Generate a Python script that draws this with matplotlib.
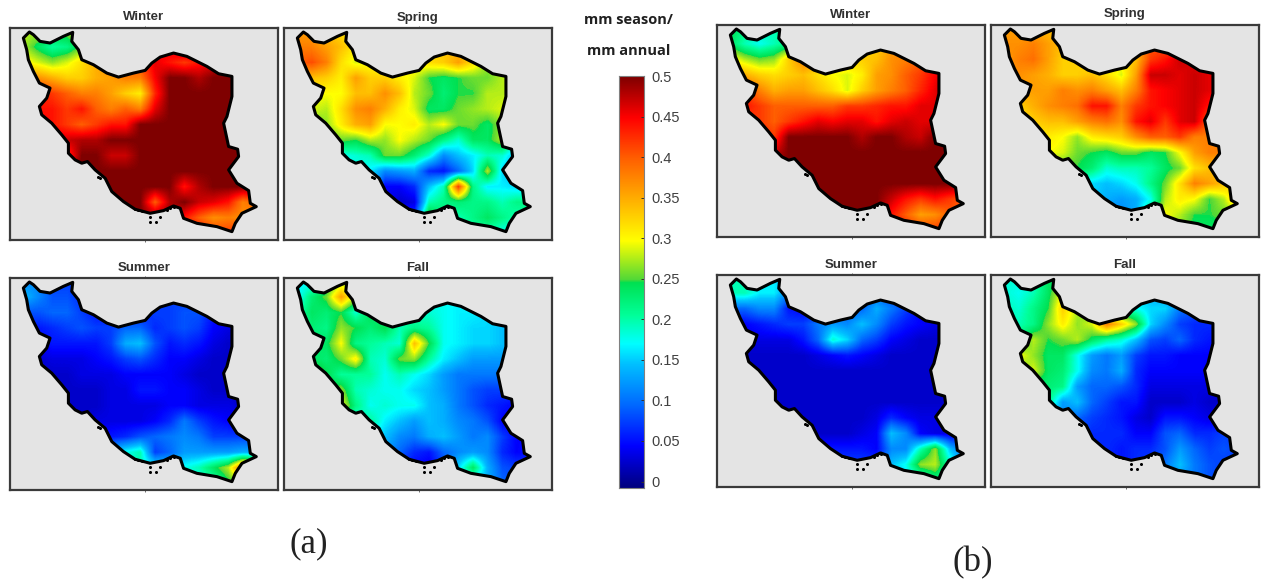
import numpy as np
from matplotlib import pyplot as plt
from matplotlib.colors import LinearSegmentedColormap
from matplotlib.patches import Polygon

W, H = 1266, 584

# border of the country, in panel units (frame is 803 x 635)
border_x = [58, 40, 50, 55, 70, 88, 120, 110, 88, 95, 125, 155, 175, 175, 195, 215, 232, 255, 285, 305,
            340, 375, 420, 460, 490, 510, 520, 560, 620, 665, 675, 695, 738, 720, 715, 680, 655, 685,
            682, 655, 640, 650, 665, 665, 625, 590, 530, 490, 450, 425, 405, 370, 325, 290, 250, 215,
            205, 185, 188, 160, 120, 90, 70]
border_y = [12, 30, 65, 95, 130, 165, 180, 210, 235, 260, 285, 320, 345, 375, 395, 405, 400, 425, 450, 490,
            520, 543, 555, 547, 533, 540, 570, 585, 595, 610, 585, 555, 535, 525, 487, 465, 425, 385,
            363, 355, 285, 265, 205, 145, 137, 115, 85, 75, 87, 105, 127, 135, 147, 135, 110, 95,
            65, 40, 13, 25, 45, 40, 20]
island_x = [265, 270, 420, 438, 420, 448, 375, 385, 395, 470, 480, 490]
island_y = [447, 450, 565, 580, 580, 565, 543, 546, 548, 545, 540, 535]

# panel frames in figure pixels: left, top
frames = {'a_winter': (10, 28), 'a_spring': (284, 28), 'a_summer': (10, 278), 'a_fall': (284, 278),
          'b_winter': (717, 25), 'b_spring': (991, 25), 'b_summer': (717, 275), 'b_fall': (991, 275)}
frame_w, frame_h = 268, 212
titles = {'a_winter': 'Winter', 'a_spring': 'Spring', 'a_summer': 'Summer', 'a_fall': 'Fall',
          'b_winter': 'Winter', 'b_spring': 'Spring', 'b_summer': 'Summer', 'b_fall': 'Fall'}

# seasonal share in hundredths, 14 rows (north to south) by 17 columns (west to east)
a_winter = [
    [28, 28, 26, 27, 30, 36, 40, 42, 44, 45, 46, 50, 50, 50, 50, 50, 50],
    [28, 24, 21, 22, 26, 32, 36, 40, 42, 44, 46, 50, 50, 50, 50, 50, 50],
    [31, 29, 27, 29, 32, 35, 38, 40, 42, 46, 44, 42, 44, 46, 50, 50, 50],
    [37, 37, 35, 33, 33, 35, 36, 38, 38, 45, 50, 50, 48, 50, 50, 50, 50],
    [42, 44, 42, 40, 38, 38, 36, 33, 31, 43, 50, 50, 50, 50, 50, 50, 50],
    [44, 44, 44, 42, 44, 40, 38, 40, 38, 46, 50, 50, 50, 50, 50, 50, 50],
    [46, 46, 44, 42, 40, 42, 44, 44, 50, 50, 50, 50, 50, 50, 50, 50, 50],
    [47, 47, 47, 47, 48, 48, 50, 50, 50, 50, 50, 50, 50, 50, 50, 50, 50],
    [44, 44, 44, 42, 50, 50, 47, 47, 50, 50, 50, 50, 50, 50, 50, 50, 50],
    [50, 50, 50, 50, 50, 50, 50, 50, 50, 50, 50, 50, 50, 50, 50, 50, 50],
    [50, 50, 50, 50, 50, 50, 50, 50, 50, 50, 50, 44, 48, 50, 50, 50, 50],
    [50, 50, 50, 50, 50, 50, 50, 50, 50, 40, 48, 50, 47, 46, 44, 38, 40],
    [50, 50, 50, 50, 50, 50, 50, 50, 50, 50, 50, 44, 40, 37, 38, 37, 37],
    [50, 50, 50, 50, 50, 50, 50, 50, 50, 50, 50, 46, 45, 42, 42, 44, 44],
]
a_spring = [
    [36, 36, 34, 32, 31, 30, 30, 30, 30, 32, 33, 33, 30, 27, 27, 27, 27],
    [38, 38, 36, 34, 31, 29, 29, 29, 30, 32, 34, 34, 30, 27, 27, 27, 27],
    [40, 41, 38, 32, 29, 30, 29, 30, 31, 32, 33, 36, 32, 27, 27, 27, 27],
    [34, 34, 33, 31, 36, 33, 33, 31, 29, 25, 24, 25, 26, 26, 28, 28, 28],
    [30, 30, 30, 30, 34, 34, 37, 34, 28, 26, 23, 25, 25, 28, 28, 28, 28],
    [29, 29, 28, 32, 37, 38, 35, 31, 29, 24, 24, 26, 27, 28, 29, 29, 29],
    [25, 25, 27, 31, 35, 36, 30, 30, 31, 28, 30, 26, 26, 24, 27, 27, 27],
    [25, 25, 25, 26, 25, 28, 27, 30, 28, 26, 22, 19, 24, 24, 28, 20, 20],
    [20, 20, 20, 18, 19, 20, 26, 26, 23, 19, 12, 15, 17, 20, 19, 14, 14],
    [18, 18, 18, 17, 18, 17, 12, 13, 14, 7, 6, 10, 16, 28, 16, 14, 14],
    [15, 15, 15, 15, 15, 17, 5, 5, 7, 15, 20, 42, 22, 17, 17, 16, 16],
    [10, 10, 10, 10, 12, 15, 5, 3, 4, 20, 22, 23, 22, 22, 20, 22, 22],
    [8, 8, 8, 8, 8, 8, 8, 8, 8, 28, 22, 20, 22, 24, 22, 20, 20],
    [8, 8, 8, 8, 8, 8, 8, 8, 8, 20, 20, 20, 20, 20, 18, 18, 18],
]
a_summer = [
    [12, 12, 8, 8, 7, 5, 5, 5, 5, 7, 7, 8, 7, 6, 5, 5, 5],
    [15, 12, 9, 9, 7, 5, 5, 5, 5, 7, 8, 8, 7, 6, 5, 5, 5],
    [9, 9, 10, 10, 8, 6, 6, 6, 6, 8, 8, 9, 9, 6, 5, 5, 5],
    [6, 6, 7, 8, 9, 8, 8, 10, 10, 7, 8, 9, 8, 5, 4, 4, 4],
    [5, 5, 6, 6, 6, 6, 8, 14, 15, 9, 6, 7, 6, 4, 3, 3, 3],
    [3, 3, 4, 4, 4, 5, 6, 8, 9, 7, 5, 5, 4, 3, 3, 3, 3],
    [3, 3, 3, 3, 4, 4, 4, 5, 5, 5, 5, 4, 3, 3, 3, 3, 3],
    [3, 3, 3, 3, 3, 3, 4, 4, 6, 6, 5, 5, 4, 3, 3, 3, 3],
    [3, 3, 3, 3, 3, 3, 4, 4, 4, 4, 5, 5, 4, 4, 4, 3, 3],
    [3, 3, 3, 3, 3, 4, 4, 4, 4, 5, 7, 11, 8, 6, 5, 5, 5],
    [4, 4, 4, 4, 4, 5, 6, 7, 9, 10, 11, 12, 11, 8, 8, 8, 8],
    [12, 12, 12, 12, 12, 12, 15, 18, 20, 8, 10, 13, 13, 13, 13, 14, 14],
    [18, 18, 18, 18, 18, 18, 18, 20, 20, 18, 16, 18, 20, 24, 28, 40, 35],
    [18, 18, 18, 18, 18, 18, 18, 18, 18, 18, 18, 17, 18, 20, 24, 26, 26],
]
a_fall = [
    [17, 17, 22, 27, 27, 22, 20, 20, 20, 18, 18, 17, 17, 17, 16, 16, 16],
    [17, 23, 26, 36, 28, 22, 20, 20, 20, 18, 18, 17, 17, 17, 16, 16, 16],
    [20, 24, 23, 25, 19, 25, 22, 20, 19, 19, 18, 17, 17, 16, 16, 16, 16],
    [19, 23, 22, 27, 25, 23, 25, 20, 22, 21, 18, 17, 16, 16, 15, 15, 15],
    [20, 23, 24, 30, 22, 21, 20, 19, 34, 25, 18, 17, 16, 16, 15, 15, 15],
    [27, 24, 23, 26, 31, 20, 19, 26, 27, 21, 17, 15, 13, 13, 13, 13, 13],
    [29, 29, 25, 21, 21, 21, 18, 20, 18, 16, 13, 11, 11, 11, 11, 11, 11],
    [22, 23, 24, 27, 20, 19, 18, 18, 16, 15, 13, 11, 9, 8, 8, 8, 8],
    [26, 24, 22, 30, 22, 18, 19, 18, 18, 15, 14, 11, 9, 7, 6, 5, 5],
    [23, 23, 22, 22, 18, 21, 17, 15, 13, 15, 14, 12, 11, 9, 5, 5, 5],
    [18, 18, 18, 18, 18, 18, 15, 12, 11, 14, 15, 13, 11, 12, 8, 5, 5],
    [14, 14, 14, 14, 14, 15, 13, 10, 7, 6, 10, 12, 13, 12, 7, 5, 6],
    [8, 8, 8, 8, 8, 8, 8, 6, 5, 4, 8, 16, 24, 14, 9, 8, 8],
    [8, 8, 8, 8, 8, 8, 8, 8, 8, 8, 8, 14, 15, 14, 10, 9, 9],
]
b_winter = [
    [25, 22, 20, 20, 22, 30, 33, 33, 33, 33, 33, 38, 40, 44, 50, 50, 50],
    [24, 20, 18, 20, 22, 28, 33, 33, 33, 32, 33, 36, 38, 42, 50, 50, 50],
    [31, 28, 26, 27, 33, 38, 36, 34, 33, 33, 34, 37, 38, 40, 45, 50, 50],
    [36, 35, 33, 32, 33, 34, 32, 30, 29, 31, 36, 37, 40, 42, 45, 50, 50],
    [42, 42, 38, 35, 36, 36, 34, 32, 29, 33, 36, 38, 40, 43, 46, 50, 50],
    [43, 44, 42, 40, 40, 40, 40, 40, 42, 42, 43, 44, 44, 46, 46, 50, 50],
    [42, 42, 42, 40, 42, 44, 46, 45, 46, 46, 44, 46, 47, 46, 46, 50, 50],
    [45, 45, 43, 42, 50, 50, 50, 50, 50, 48, 50, 50, 48, 47, 50, 50, 50],
    [47, 47, 47, 47, 50, 50, 50, 50, 50, 50, 50, 50, 50, 50, 50, 50, 50],
    [50, 50, 50, 50, 50, 50, 50, 50, 50, 50, 50, 50, 50, 50, 50, 50, 50],
    [50, 50, 50, 50, 50, 50, 50, 50, 50, 50, 50, 50, 50, 50, 50, 50, 50],
    [50, 50, 50, 50, 50, 50, 50, 50, 50, 50, 50, 47, 44, 42, 44, 42, 40],
    [50, 50, 50, 50, 50, 50, 50, 50, 50, 50, 50, 44, 40, 36, 37, 40, 40],
    [50, 50, 50, 50, 50, 50, 50, 50, 50, 50, 50, 46, 44, 42, 42, 44, 44],
]
b_spring = [
    [36, 36, 35, 34, 33, 32, 32, 32, 34, 36, 38, 38, 40, 42, 44, 46, 46],
    [37, 37, 38, 36, 34, 32, 32, 32, 34, 36, 40, 40, 40, 42, 44, 46, 46],
    [36, 38, 39, 36, 33, 33, 30, 30, 31, 34, 42, 44, 47, 46, 44, 44, 44],
    [36, 37, 36, 35, 33, 33, 34, 32, 29, 36, 47, 47, 46, 47, 46, 46, 46],
    [35, 36, 36, 36, 38, 37, 38, 36, 34, 38, 44, 45, 46, 47, 46, 46, 46],
    [31, 33, 35, 37, 38, 39, 44, 44, 38, 42, 44, 45, 46, 47, 44, 44, 44],
    [31, 31, 33, 34, 34, 36, 38, 39, 37, 44, 46, 42, 46, 47, 40, 40, 40],
    [31, 31, 31, 31, 30, 27, 31, 32, 33, 37, 40, 40, 42, 38, 38, 38, 38],
    [31, 31, 31, 30, 29, 26, 25, 24, 26, 26, 24, 25, 30, 36, 38, 38, 38],
    [25, 25, 25, 25, 25, 25, 23, 19, 20, 20, 21, 24, 26, 32, 34, 33, 33],
    [18, 18, 18, 18, 18, 18, 16, 15, 16, 18, 22, 26, 32, 38, 36, 34, 30],
    [16, 16, 16, 16, 16, 16, 16, 14, 13, 14, 18, 28, 31, 30, 25, 28, 35],
    [12, 12, 12, 12, 12, 12, 12, 12, 12, 14, 24, 30, 28, 25, 25, 26, 26],
    [12, 12, 12, 12, 12, 12, 12, 12, 12, 14, 24, 28, 26, 24, 24, 24, 24],
]
b_summer = [
    [20, 20, 18, 17, 12, 5, 4, 4, 4, 6, 6, 6, 6, 5, 4, 4, 4],
    [20, 20, 17, 17, 12, 5, 4, 4, 4, 8, 10, 8, 6, 5, 4, 4, 4],
    [10, 10, 12, 12, 6, 5, 5, 6, 9, 10, 14, 11, 8, 5, 4, 4, 4],
    [5, 5, 6, 7, 8, 8, 11, 13, 12, 15, 12, 8, 6, 5, 4, 4, 4],
    [4, 4, 4, 4, 4, 6, 10, 19, 16, 10, 8, 5, 4, 3, 3, 3, 3],
    [3, 3, 3, 3, 3, 3, 4, 5, 6, 5, 4, 3, 3, 3, 3, 3, 3],
    [3, 3, 3, 3, 3, 3, 3, 3, 3, 3, 3, 3, 3, 3, 3, 3, 3],
    [3, 3, 3, 3, 3, 3, 3, 3, 3, 3, 3, 3, 3, 3, 3, 3, 3],
    [3, 3, 3, 3, 3, 3, 3, 3, 3, 3, 3, 3, 3, 3, 3, 3, 3],
    [3, 3, 3, 3, 3, 3, 3, 3, 3, 3, 4, 7, 5, 4, 4, 4, 4],
    [3, 3, 3, 3, 3, 3, 3, 3, 3, 4, 5, 15, 12, 5, 4, 4, 4],
    [6, 6, 6, 6, 6, 6, 6, 6, 6, 6, 5, 12, 12, 20, 27, 15, 10],
    [8, 8, 8, 8, 8, 8, 8, 8, 8, 8, 8, 15, 18, 27, 28, 20, 12],
    [8, 8, 8, 8, 8, 8, 8, 8, 8, 8, 8, 14, 16, 18, 22, 20, 12],
]
b_fall = [
    [19, 19, 19, 24, 22, 18, 18, 18, 18, 16, 14, 13, 12, 12, 12, 12, 12],
    [19, 18, 20, 24, 30, 22, 18, 18, 18, 16, 14, 13, 12, 12, 12, 12, 12],
    [20, 19, 22, 25, 33, 28, 24, 20, 20, 18, 16, 16, 11, 9, 8, 8, 8],
    [20, 20, 22, 27, 31, 27, 29, 38, 33, 27, 16, 12, 8, 7, 7, 7, 7],
    [22, 22, 28, 25, 26, 28, 24, 21, 19, 15, 9, 8, 10, 7, 6, 6, 6],
    [30, 30, 27, 24, 24, 18, 13, 11, 13, 8, 6, 6, 5, 5, 5, 5, 5],
    [25, 25, 29, 24, 23, 18, 12, 11, 14, 7, 5, 5, 5, 5, 5, 5, 5],
    [23, 23, 23, 23, 22, 13, 10, 10, 9, 7, 4, 4, 4, 4, 4, 4, 4],
    [22, 22, 22, 22, 13, 15, 10, 8, 6, 6, 3, 3, 3, 4, 3, 3, 3],
    [15, 15, 15, 15, 12, 10, 8, 7, 6, 4, 3, 6, 6, 5, 4, 5, 5],
    [9, 9, 9, 9, 9, 9, 7, 7, 7, 5, 5, 9, 10, 7, 7, 8, 8],
    [7, 7, 7, 7, 7, 7, 7, 7, 6, 7, 7, 9, 13, 10, 8, 9, 8],
    [7, 7, 7, 7, 7, 7, 7, 7, 6, 7, 8, 11, 15, 11, 9, 8, 8],
    [7, 7, 7, 7, 7, 7, 7, 7, 7, 7, 7, 10, 13, 11, 9, 8, 8],
]
grids = {'a_winter': a_winter, 'a_spring': a_spring, 'a_summer': a_summer, 'a_fall': a_fall,
         'b_winter': b_winter, 'b_spring': b_spring, 'b_summer': b_summer, 'b_fall': b_fall}

cbar_ticks = [0, 0.05, 0.1, 0.15, 0.2, 0.25, 0.3, 0.35, 0.4, 0.45, 0.5]
cbar_labels = ['0', '0.05', '0.1', '0.15', '0.2', '0.25', '0.3', '0.35', '0.4', '0.45', '0.5']

stops = [(0, '#00007f'), (0.1, '#0000ff'), (0.2, '#0068ff'), (0.3, '#00c0ff'), (0.35, '#00ffff'),
         (0.42, '#00ff98'), (0.5, '#00e050'), (0.505, '#50d838'), (0.6, '#ffff00'), (0.7, '#ffb000'),
         (0.8, '#ff6000'), (0.9, '#ff0000'), (1, '#7f0000')]
cmap = LinearSegmentedColormap.from_list('season', stops, N=256)


def px_axes(fig, left, top, w, h):
    return fig.add_axes([left / W, 1 - (top + h) / H, w / W, h / H])


def draw_panel(fig, key):
    left, top = frames[key]
    ax = px_axes(fig, left, top, frame_w, frame_h)
    ax.set_facecolor('#e4e4e4')
    im = ax.imshow(np.array(grids[key], dtype=float) / 100, cmap=cmap, vmin=0, vmax=0.5,
                   interpolation='bilinear', aspect='auto', extent=(18, 762, 638, -13))
    ax.set_xlim(0, 803)
    ax.set_ylim(635, 0)
    poly = Polygon(np.column_stack((border_x, border_y)), closed=True, transform=ax.transData,
                   fill=False, edgecolor='black', linewidth=2.2, joinstyle='round', zorder=3)
    ax.add_patch(poly)
    im.set_clip_path(poly)
    ax.plot(island_x, island_y, 'o', color='black', markersize=2.2, markeredgewidth=0, zorder=4)
    ax.set_xticks([403])
    ax.set_yticks([])
    ax.tick_params(length=1.5, width=0.6, color='#555555', labelbottom=False, top=True)
    for s in ax.spines.values():
        s.set_linewidth(1.6)
        s.set_color('#3a3a3a')
    fig.text((left + frame_w / 2) / W, 1 - (top - 10.5) / H, titles[key], ha='center', va='center',
             fontsize=9.5, fontweight='bold', family='Liberation Sans', color='#303030')


fig = plt.figure(figsize=(W / 100, H / 100), dpi=100)
for key in frames:
    draw_panel(fig, key)

# colour bar, the scale stops a little above the bottom of the bar
cax = px_axes(fig, 619, 76, 25, 412)
bar = np.linspace(0, 0.5, 256).reshape(-1, 1)
cax.imshow(bar, cmap=cmap, vmin=0, vmax=0.5, origin='lower', aspect='auto', extent=(0, 1, -0.008, 0.5))
cax.set_xticks([])
cax.yaxis.tick_right()
cax.set_yticks(cbar_ticks)
cax.set_yticklabels(cbar_labels, family='Liberation Sans', fontsize=10.5, color='#404040')
cax.tick_params(axis='y', direction='in', length=2, width=0.7, pad=5, color='#303030')
for s in cax.spines.values():
    s.set_linewidth(0.8)
    s.set_color('#808080')

fig.text(628 / W, 1 - 20 / H, 'mm season/', ha='center', va='center', fontsize=10.5, fontweight='bold',
         family='Open Sans', color='#202020')
fig.text(629 / W, 1 - 51 / H, 'mm annual', ha='center', va='center', fontsize=10.5, fontweight='bold',
         family='Open Sans', color='#202020')

fig.text(309 / W, 1 - 544 / H, '(a)', ha='center', va='center', fontsize=25, family='Liberation Serif', color='#222222')
fig.text(973 / W, 1 - 563 / H, '(b)', ha='center', va='center', fontsize=25, family='Liberation Serif', color='#222222')

fig.savefig('out.png', dpi=100)
